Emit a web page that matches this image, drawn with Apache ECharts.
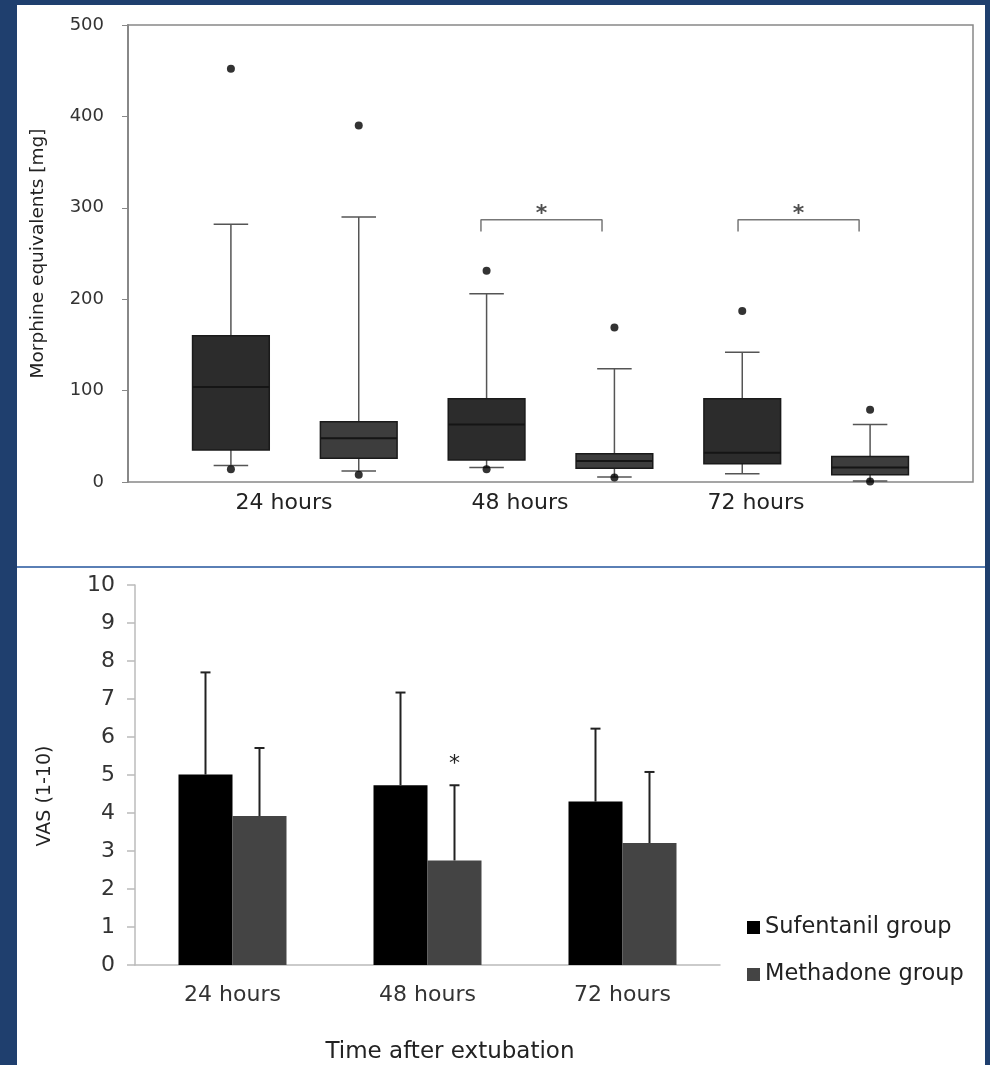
<!DOCTYPE html>
<html>
<head>
<meta charset="utf-8">
<script src="https://cdn.jsdelivr.net/npm/echarts@6/dist/echarts.min.js"></script>
<style>
    html, body { margin: 0; padding: 0; background: #1f3f6e; }
    .panel { position: absolute; background: #fff; }
    #chart { position: absolute; left: 0; top: 0; width: 990px; height: 1065px; }
</style>
</head>
<body>
<div class="panel" style="left:17px;top:5px;width:968px;height:561px;"></div>
<div class="panel" style="left:17px;top:566px;width:968px;height:2px;background:#5a7fb5;"></div>
<div class="panel" style="left:17px;top:568px;width:968px;height:497px;"></div>
<div id="chart"></div>
<script>
// top: morphine equivalents, boxes in order 24h S, 24h M, 48h S, 48h M, 72h S, 72h M
var hourLabels = ['24 hours', '48 hours', '72 hours'];
var groupNames = ['Sufentanil group', 'Methadone group'];

var boxMin = [18, 12, 16, 5.5, 9, 1];
var boxQ1 = [35, 26, 24, 15, 20, 8];
var boxMedian = [104, 48, 63, 23, 32, 16];
var boxQ3 = [160, 66, 91, 31, 91, 28];
var boxMax = [282, 290, 206, 124, 142, 63];
var outliers = [[0, 452], [0, 14], [1, 390], [1, 8], [2, 231], [2, 14],
                [3, 169], [3, 5], [4, 187], [5, 79], [5, 0.5]];

// significance brackets (box index positions) and height
var bracketEnds = [[1.956, 2.903], [3.967, 4.914]];
var bracketTop = 287;
var bracketFoot = 274;

// bottom: VAS mean and upper error
var sufMean = [5.01, 4.73, 4.30];
var sufUpper = [7.70, 7.17, 6.22];
var metMean = [3.92, 2.75, 3.21];
var metUpper = [5.71, 4.73, 5.08];
var metSignificant = [false, true, false];

var FONT = 'DejaVu Sans';
var BAR_W = 54;

var boxData = [];
for (var i = 0; i < boxMin.length; i++) {
    boxData.push([i, boxMin[i], boxQ1[i], boxMedian[i], boxQ3[i], boxMax[i]]);
}
var boxCats = [];
hourLabels.forEach(function (h) {
    groupNames.forEach(function (g) { boxCats.push(h + ' ' + g); });
});

function renderBox(params, api) {
    var x = api.value(0);
    var lo = api.coord([x, api.value(1)]);
    var q1 = api.coord([x, api.value(2)]);
    var md = api.coord([x, api.value(3)]);
    var q3 = api.coord([x, api.value(4)]);
    var hi = api.coord([x, api.value(5)]);
    var bw = api.size([0.6, 0])[0];
    var cw = api.size([0.27, 0])[0];
    var cx = lo[0];
    var fill = (params.dataIndex % 2) ? '#3d3d3d' : '#2c2c2c';
    var wStyle = { stroke: '#555', lineWidth: 1.5 };
    return {
        type: 'group',
        children: [
            { type: 'line', shape: { x1: cx, y1: q3[1], x2: cx, y2: hi[1] }, style: wStyle },
            { type: 'line', shape: { x1: cx, y1: q1[1], x2: cx, y2: lo[1] }, style: wStyle },
            { type: 'line', shape: { x1: cx - cw / 2, y1: hi[1], x2: cx + cw / 2, y2: hi[1] }, style: wStyle },
            { type: 'line', shape: { x1: cx - cw / 2, y1: lo[1], x2: cx + cw / 2, y2: lo[1] }, style: wStyle },
            { type: 'rect', shape: { x: cx - bw / 2, y: q3[1], width: bw, height: q1[1] - q3[1] },
              style: { fill: fill, stroke: '#1a1a1a', lineWidth: 1.5 } },
            { type: 'line', shape: { x1: cx - bw / 2, y1: md[1], x2: cx + bw / 2, y2: md[1] },
              style: { stroke: '#151515', lineWidth: 2 } }
        ]
    };
}

function errorRenderer(sign, starFlags) {
    return function (params, api) {
        var base = api.coord([api.value(0), api.value(1)]);
        var top = api.coord([api.value(0), api.value(2)]);
        var x = base[0] + sign * BAR_W / 2;
        var st = { stroke: '#222', lineWidth: 2 };
        var kids = [
            { type: 'line', shape: { x1: x, y1: base[1], x2: x, y2: top[1] }, style: st },
            { type: 'line', shape: { x1: x - 5, y1: top[1], x2: x + 5, y2: top[1] }, style: st }
        ];
        if (starFlags && starFlags[params.dataIndex]) {
            kids.push({ type: 'text', x: x, y: top[1] - 21,
                style: { text: '*', fill: '#222', font: '22px "' + FONT + '"', align: 'center', verticalAlign: 'middle' } });
        }
        return { type: 'group', children: kids };
    };
}

var bracketSeries = bracketEnds.map(function (b) {
    return {
        type: 'line', xAxisIndex: 0, yAxisIndex: 0, symbol: 'none', silent: true,
        lineStyle: { color: '#777', width: 1.5 },
        data: [[b[0], bracketFoot], [b[0], bracketTop], [b[1], bracketTop], [b[1], bracketFoot]]
    };
});

var myChart = echarts.init(document.getElementById('chart'));
var option = {
    backgroundColor: 'transparent',
    animation: false,
    textStyle: { fontFamily: FONT },
    grid: [
        { left: 128, top: 25, width: 845, height: 457, show: true, borderColor: '#888', borderWidth: 1.5 },
        { left: 167, top: 25, width: 767, height: 457 },
        { left: 166, top: 25, width: 708, height: 457 },
        { left: 135, top: 585, width: 585, height: 381 }
    ],
    legend: {
        orient: 'vertical', left: 742, top: 911, itemWidth: 13, itemHeight: 13, itemGap: 24,
        icon: 'rect', data: groupNames,
        textStyle: { fontFamily: FONT, fontSize: 22.5, color: '#222' }
    },
    xAxis: [
        { type: 'value', gridIndex: 0, min: -0.805, max: 5.805, show: false },
        { type: 'category', gridIndex: 1, data: boxCats,
          axisLine: { show: false }, axisLabel: { show: false },
          axisTick: { alignWithLabel: true, length: 4, lineStyle: { color: '#bbb' } } },
        { type: 'category', gridIndex: 2, data: hourLabels,
          axisLine: { show: false }, axisTick: { show: false },
          axisLabel: { fontFamily: FONT, fontSize: 22, color: '#222', margin: 10 } },
        { type: 'category', gridIndex: 3, data: hourLabels,
          axisLine: { lineStyle: { color: '#bbb', width: 1.5 } },
          axisTick: { length: 6, lineStyle: { color: '#aaa', width: 1.5 } },
          axisLabel: { fontFamily: FONT, fontSize: 22, color: '#333', margin: 19 },
          name: 'Time after extubation', nameLocation: 'middle', nameGap: 76,
          nameTextStyle: { fontFamily: FONT, fontSize: 23, color: '#222', padding: [0, 0, 0, 45] } }
    ],
    yAxis: [
        { type: 'value', gridIndex: 0, min: 0, max: 500, interval: 100,
          axisLine: { show: true, onZero: false, lineStyle: { color: '#888', width: 2 } },
          axisTick: { show: true, length: 6, lineStyle: { color: '#888' } },
          axisLabel: { fontFamily: FONT, fontSize: 18, color: '#333', margin: 24 },
          splitLine: { show: false },
          name: 'Morphine equivalents [mg]', nameLocation: 'middle', nameRotate: 90, nameGap: 80,
          nameTextStyle: { fontFamily: FONT, fontSize: 18.5, color: '#222' } },
        { type: 'value', gridIndex: 1, min: 0, max: 500, show: false },
        { type: 'value', gridIndex: 2, min: 0, max: 500, show: false },
        { type: 'value', gridIndex: 3, min: 0, max: 10, interval: 1,
          axisLine: { show: true, onZero: false, lineStyle: { color: '#bbb', width: 1.5 } },
          axisTick: { show: true, length: 8, lineStyle: { color: '#bbb', width: 1.5 } },
          axisLabel: { fontFamily: FONT, fontSize: 22, color: '#333', margin: 20 },
          splitLine: { show: false },
          name: 'VAS (1-10)', nameLocation: 'middle', nameRotate: 90, nameGap: 80,
          nameTextStyle: { fontFamily: FONT, fontSize: 19, color: '#222', padding: [0, 42, 0, 0] } }
    ],
    series: [
        { type: 'custom', xAxisIndex: 0, yAxisIndex: 0, renderItem: renderBox,
          encode: { x: 0, y: [1, 2, 3, 4, 5] }, data: boxData, z: 3 },
        { type: 'scatter', xAxisIndex: 0, yAxisIndex: 0, symbolSize: 8,
          itemStyle: { color: '#000' }, data: outliers, z: 4 },
        { type: 'scatter', xAxisIndex: 0, yAxisIndex: 0, symbolSize: 0, silent: true,
          label: { show: true, formatter: '*', position: 'top', distance: -6,
                   fontFamily: FONT, fontSize: 22, fontWeight: 'bold', color: '#222' },
          data: bracketEnds.map(function (b) { return [(b[0] + b[1]) / 2, bracketTop]; }) },
        { name: groupNames[0], type: 'bar', xAxisIndex: 3, yAxisIndex: 3, barWidth: BAR_W, barGap: '0%',
          itemStyle: { color: '#000' }, data: sufMean },
        { name: groupNames[1], type: 'bar', xAxisIndex: 3, yAxisIndex: 3, barWidth: BAR_W, barGap: '0%',
          itemStyle: { color: '#444' }, data: metMean },
        { type: 'custom', xAxisIndex: 3, yAxisIndex: 3, z: 5, renderItem: errorRenderer(-1, null),
          encode: { x: 0, y: [1, 2] },
          data: sufMean.map(function (m, k) { return [k, m, sufUpper[k]]; }) },
        { type: 'custom', xAxisIndex: 3, yAxisIndex: 3, z: 5, renderItem: errorRenderer(1, metSignificant),
          encode: { x: 0, y: [1, 2] },
          data: metMean.map(function (m, k) { return [k, m, metUpper[k]]; }) }
    ].concat(bracketSeries)
};
myChart.setOption(option, true);
</script>
</body>
</html>
